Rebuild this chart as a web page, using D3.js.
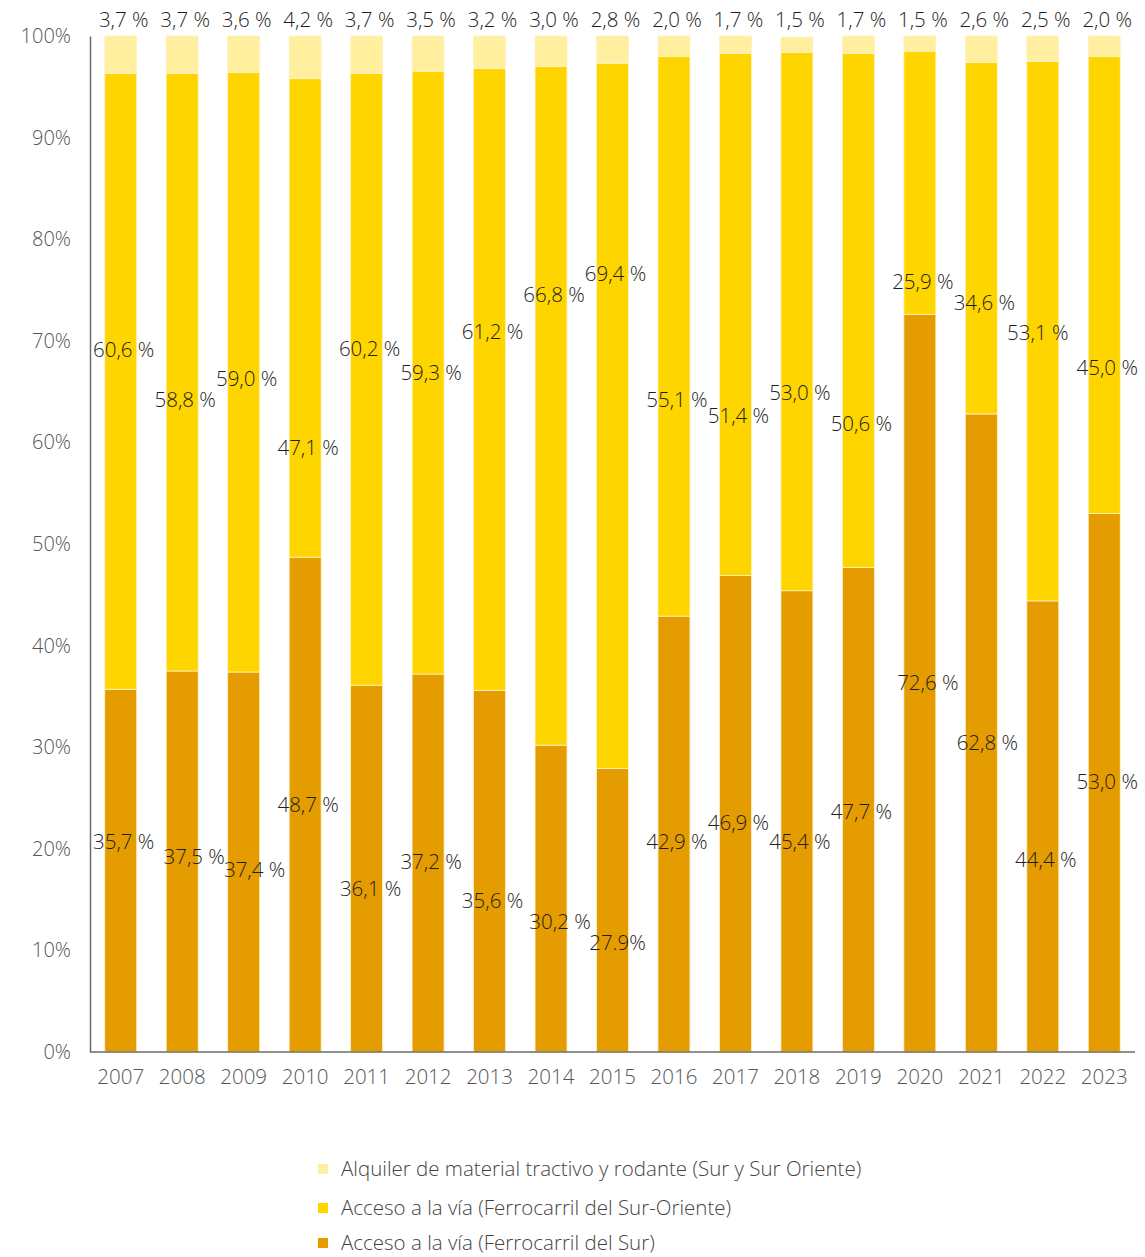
<!DOCTYPE html>
<html>
<head>
<meta charset="utf-8">
<script src="https://cdn.jsdelivr.net/npm/d3@7"></script>
<style>
  body { margin: 0; background: #fff; }
  svg { display: block; font-family: "Open Sans", Lato, sans-serif; }
</style>
</head>
<body>
<svg id="chart" width="1145" height="1257"></svg>
<script>
// ---- data ----
const years = ["2007","2008","2009","2010","2011","2012","2013","2014","2015","2016","2017","2018","2019","2020","2021","2022","2023"];
const sur = [35.7, 37.5, 37.4, 48.7, 36.1, 37.2, 35.6, 30.2, 27.9, 42.9, 46.9, 45.4, 47.7, 72.6, 62.8, 44.4, 53.0];
const surOriente = [60.6, 58.8, 59.0, 47.1, 60.2, 59.3, 61.2, 66.8, 69.4, 55.1, 51.4, 53.0, 50.6, 25.9, 34.6, 53.1, 45.0];
const alquiler = [3.7, 3.7, 3.6, 4.2, 3.7, 3.5, 3.2, 3.0, 2.8, 2.0, 1.7, 1.5, 1.7, 1.5, 2.6, 2.5, 2.0];
const surLabels = ["35,7 %","37,5 %","37,4 %","48,7 %","36,1 %","37,2 %","35,6 %","30,2 %","27.9%","42,9 %","46,9 %","45,4 %","47,7 %","72,6 %","62,8 %","44,4 %","53,0 %"];
const surOrienteLabels = ["60,6 %","58,8 %","59,0 %","47,1 %","60,2 %","59,3 %","61,2 %","66,8 %","69,4 %","55,1 %","51,4 %","53,0 %","50,6 %","25,9 %","34,6 %","53,1 %","45,0 %"];
const alquilerLabels = ["3,7 %","3,7 %","3,6 %","4,2 %","3,7 %","3,5 %","3,2 %","3,0 %","2,8 %","2,0 %","1,7 %","1,5 %","1,7 %","1,5 %","2,6 %","2,5 %","2,0 %"];
const yTicks = [0, 10, 20, 30, 40, 50, 60, 70, 80, 90, 100];
const seriesNames = ["Alquiler de material tractivo y rodante (Sur y Sur Oriente)", "Acceso a la vía (Ferrocarril del Sur-Oriente)", "Acceso a la vía (Ferrocarril del Sur)"];

// ---- label layout (as placed in the reference, in % units of the y axis) ----
const surLabelAt = [20.7, 19.2, 17.9, 24.3, 16.1, 18.7, 14.9, 12.8, 10.7, 20.7, 22.6, 20.7, 23.6, 36.3, 30.4, 18.9, 26.6];
const surOrLabelAt = [69.1, 64.2, 66.3, 59.5, 69.2, 66.8, 70.9, 74.5, 76.6, 64.2, 62.6, 64.9, 61.8, 75.8, 73.7, 70.8, 67.3];
const surLabelNudge = [0, 9, 8, 0, 1, 0, 0, 6, 2, 0, 0, 0, 0, 5, 3, 0, 0];
const surOrLabelNudge = [0, 0, 0, 0, 0, 0, 0, 0, 0, 0, 0, 0, 0, 0, 0, -8, 0];

// ---- styles ----
const colors = { alquiler: "#FFEF9E", surOriente: "#FFD500", sur: "#E59C00" };
const margin = { left: 90, right: 10, top: 36, bottom: 205 };
const W = 1145, H = 1257;
const FONT = 20.5;

const svg = d3.select("#chart");
const x = d3.scaleBand().domain(years).range([margin.left, W - margin.right]).paddingInner(0.48).paddingOuter(0.24);
const y = d3.scaleLinear().domain([0, 100]).range([H - margin.bottom, margin.top]);

const rows = years.map((yr, i) => ({ year: yr, sur: sur[i], surOriente: surOriente[i], alquiler: alquiler[i] }));
const keys = ["sur", "surOriente", "alquiler"];
const stacked = d3.stack().keys(keys)(rows);

svg.append("g").selectAll("g").data(stacked).join("g")
  .attr("fill", d => colors[d.key])
  .selectAll("rect").data(d => d).join("rect")
  .attr("x", d => x(d.data.year))
  .attr("width", x.bandwidth())
  .attr("y", d => y(Math.min(d[1], 100)))
  .attr("height", d => y(d[0]) - y(Math.min(d[1], 100)))
  .attr("stroke", "#FFF1C8")
  .attr("stroke-width", 0.8);

// axes
const yAxis = d3.axisLeft(y).tickValues(yTicks).tickFormat(d => d + "%").tickSize(0).tickPadding(19);
const gy = svg.append("g").attr("transform", `translate(${margin.left},0)`).call(yAxis);
gy.select(".domain").attr("stroke", "#6b6b6b").attr("stroke-width", 1.5);
gy.selectAll("text").attr("font-size", 20).attr("fill", "#555").attr("font-weight", 300).attr("font-family", "'Open Sans', sans-serif");

const gx = svg.append("g").attr("transform", `translate(0,${y(0)})`).call(d3.axisBottom(x).tickSize(0).tickPadding(17));
gx.select(".domain").attr("stroke", "#6b6b6b").attr("stroke-width", 1.5)
  .attr("d", `M${margin.left},0H${W - margin.right}`);
gx.selectAll("text").attr("font-size", FONT).attr("fill", "#555").attr("font-weight", 300).attr("font-family", "'Open Sans', sans-serif");

// value labels
const lab = svg.append("g").attr("font-size", FONT).attr("fill", "#1e1e1e").attr("font-weight", 300).attr("text-anchor", "middle");
const cx = yr => x(yr) + x.bandwidth() / 2 + 3;
lab.selectAll(".ls").data(years).join("text").attr("class", "ls")
  .attr("x", (d, i) => cx(d) + surLabelNudge[i])
  .attr("y", (d, i) => y(surLabelAt[i])).attr("dy", "0.35em")
  .text((d, i) => surLabels[i]);
lab.selectAll(".lo").data(years).join("text").attr("class", "lo")
  .attr("x", (d, i) => cx(d) + surOrLabelNudge[i])
  .attr("y", (d, i) => y(surOrLabelAt[i])).attr("dy", "0.35em")
  .text((d, i) => surOrienteLabels[i]);
lab.selectAll(".la").data(years).join("text").attr("class", "la")
  .attr("x", d => cx(d))
  .attr("y", y(100) - 16).attr("dy", "0.35em")
  .text((d, i) => alquilerLabels[i]);

// legend
const legColors = [colors.alquiler, colors.surOriente, colors.sur];
const legY = [1169, 1208, 1243];
const leg = svg.append("g");
seriesNames.forEach((name, i) => {
  leg.append("rect").attr("x", 318).attr("y", legY[i] - 5).attr("width", 10).attr("height", 10).attr("fill", legColors[i]);
  leg.append("text").attr("x", 341).attr("y", legY[i]).attr("dy", "0.35em")
    .attr("font-size", FONT).attr("font-weight", 300).attr("fill", "#444").text(name);
});
</script>
</body>
</html>
